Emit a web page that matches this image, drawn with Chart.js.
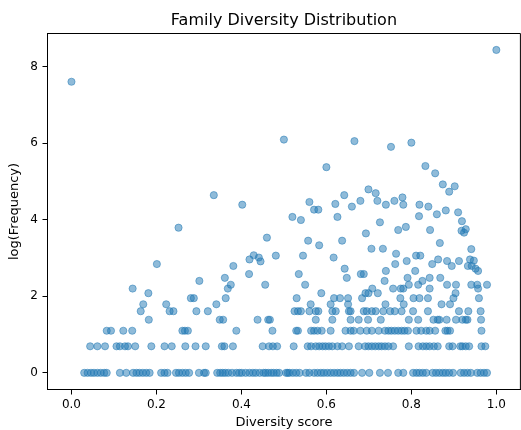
<!DOCTYPE html>
<html>
<head>
<meta charset="utf-8">
<script src="https://cdn.jsdelivr.net/npm/chart.js@4"></script>
<style>
html, body { margin: 0; padding: 0; overflow: hidden; background: #fff; width: 521px; height: 430px; }
#clip { width: 521px; height: 430px; overflow: hidden; position: relative; }
canvas { display: block; }
</style>
</head>
<body>
<div id="clip"><canvas id="c" width="525" height="430"></canvas></div>
<script>
// ---- data ----
const diversityScore = [
  // high points
  0.000, 1.000, 0.500, 0.666, 0.752, 0.800, 0.600, 0.833, 0.856, 0.874, 0.902, 0.889, 0.335, 0.642, 0.699, 0.716,
  0.402, 0.520, 0.252, 0.460, 0.429, 0.419, 0.441, 0.445, 0.481, 0.201, 0.381, 0.418, 0.361, 0.301, 0.375, 0.368,
  0.456, 0.144, 0.181, 0.363, 0.281, 0.288, 0.169, 0.223, 0.341, 0.530, 0.535,
  0.560, 0.571, 0.581, 0.621, 0.660, 0.680, 0.720, 0.740, 0.760, 0.779, 0.781, 0.819, 0.840, 0.881, 0.860, 0.910,
  0.919, 0.928, 0.918, 0.924, 0.540, 0.626, 0.726, 0.818, 0.769, 0.787, 0.844, 0.693, 0.557, 0.583, 0.637, 0.867,
  0.941, 0.706, 0.733, 0.545, 0.617, 0.764, 0.811, 0.821, 0.789, 0.762, 0.849, 0.863, 0.884, 0.895, 0.912, 0.938,
  0.933, 0.942, 0.947, 0.951, 0.957, 0.550, 0.643, 0.648, 0.681, 0.688, 0.740, 0.737, 0.809, 0.791, 0.826, 0.816,
  0.794, 0.843, 0.868, 0.843, 0.884, 0.905, 0.941, 0.955, 0.957, 0.978, 0.757, 0.775, 0.781, 0.708, 0.699, 0.692,
  0.721, 0.588, 0.904, 0.899, 0.618, 0.632, 0.651, 0.684, 0.774, 0.805, 0.819, 0.839, 0.959,
  0.563, 0.610, 0.651, 0.782, 0.871, 0.739, 0.891,
  // row log(5)
  0.163, 0.231, 0.240, 0.294, 0.321, 0.525, 0.533, 0.540, 0.560, 0.575, 0.581, 0.614, 0.622, 0.653, 0.657, 0.688,
  0.695, 0.707, 0.716, 0.734, 0.750, 0.761, 0.777, 0.804, 0.839, 0.912, 0.934, 0.963,
  // row log(4)
  0.182, 0.349, 0.357, 0.438, 0.463, 0.467, 0.575, 0.614, 0.657, 0.676, 0.698, 0.728, 0.794, 0.816, 0.852, 0.862,
  0.866, 0.883, 0.905, 0.920, 0.928, 0.932, 0.964,
  // row log(3)
  0.083, 0.093, 0.122, 0.143, 0.261, 0.267, 0.274, 0.388, 0.473, 0.529, 0.533, 0.564, 0.571, 0.579, 0.589, 0.610,
  0.645, 0.657, 0.664, 0.680, 0.695, 0.707, 0.723, 0.738, 0.746, 0.753, 0.761, 0.769, 0.777, 0.784, 0.792, 0.812,
  0.823, 0.835, 0.843, 0.856, 0.880, 0.885, 0.891, 0.965,
  // row log(2)
  0.044, 0.061, 0.079, 0.106, 0.114, 0.126, 0.133, 0.150, 0.188, 0.219, 0.236, 0.268, 0.292, 0.316, 0.354, 0.360,
  0.380, 0.450, 0.465, 0.474, 0.484, 0.523, 0.556, 0.564, 0.575, 0.583, 0.591, 0.598, 0.606, 0.614, 0.626, 0.637,
  0.653, 0.676, 0.691, 0.699, 0.707, 0.715, 0.723, 0.730, 0.738, 0.746, 0.757, 0.794, 0.817, 0.827, 0.835, 0.843,
  0.853, 0.862, 0.889, 0.897, 0.915, 0.920, 0.928, 0.936, 0.965, 0.974,
  // row log(1)
  0.030, 0.038, 0.046, 0.053, 0.061, 0.069, 0.077, 0.083, 0.114, 0.129, 0.145, 0.153, 0.160, 0.168, 0.176, 0.184,
  0.211, 0.219, 0.226, 0.246, 0.253, 0.261, 0.269, 0.277, 0.300, 0.312, 0.316, 0.343, 0.350, 0.356, 0.362, 0.369,
  0.378, 0.388, 0.395, 0.401, 0.410, 0.419, 0.427, 0.434, 0.443, 0.452, 0.457, 0.463, 0.470, 0.476, 0.483, 0.489,
  0.509, 0.505, 0.513, 0.521, 0.529, 0.537, 0.552, 0.560, 0.571, 0.579, 0.587, 0.594, 0.602, 0.610, 0.618, 0.626,
  0.633, 0.641, 0.649, 0.657, 0.665, 0.684, 0.701, 0.726, 0.745, 0.769, 0.781, 0.804, 0.812, 0.819, 0.827, 0.835,
  0.850, 0.858, 0.866, 0.874, 0.881, 0.889, 0.898, 0.916, 0.924, 0.932, 0.940, 0.955, 0.963, 0.971, 0.978
];

const logFrequency = [
  7.60, 8.43, 6.09, 6.05, 5.90, 6.01, 5.37, 5.40, 5.21, 4.92, 4.87, 4.73, 4.64, 4.64, 4.79, 4.69,
  4.39, 4.07, 3.79, 3.53, 3.07, 2.96, 3.01, 2.91, 3.06, 2.84, 2.79, 2.58, 2.48, 2.40, 2.30, 2.20,
  2.30, 2.20, 2.08, 1.95, 1.95, 1.95, 1.79, 1.79, 1.79, 1.95, 2.58,
  4.46, 4.26, 4.26, 4.41, 4.34, 4.49, 4.49, 4.39, 4.49, 4.58, 4.39, 4.39, 4.34, 4.24, 4.14, 4.19,
  3.96, 3.75, 3.71, 3.66, 3.99, 4.07, 3.93, 4.09, 3.73, 3.81, 3.73, 3.64, 3.45, 3.33, 3.45, 3.39,
  3.23, 3.24, 3.24, 3.06, 3.01, 3.11, 3.06, 3.06, 2.92, 2.84, 2.84, 2.96, 2.92, 2.79, 2.92, 2.96,
  2.79, 2.79, 2.93, 2.72, 2.66, 2.30, 2.72, 2.48, 2.58, 2.58, 2.66, 2.40, 2.66, 2.48, 2.40, 2.30,
  2.30, 2.48, 2.48, 2.20, 2.30, 2.30, 2.30, 2.30, 2.20, 2.30, 2.20, 2.20, 2.20, 2.20, 2.08, 2.08,
  2.08, 2.08, 2.08, 1.95, 1.95, 1.95, 1.95, 1.95, 1.95, 1.95, 1.95, 1.95, 1.95,
  1.79, 1.79, 1.79, 1.79, 1.79, 1.79, 1.79,
  // row log(5)
  1.609, 1.609, 1.609, 1.609, 1.609, 1.609, 1.609, 1.609, 1.609, 1.609, 1.609, 1.609, 1.609, 1.609, 1.609, 1.609,
  1.609, 1.609, 1.609, 1.609, 1.609, 1.609, 1.609, 1.609, 1.609, 1.609, 1.609, 1.609,
  // row log(4)
  1.386, 1.386, 1.386, 1.386, 1.386, 1.386, 1.386, 1.386, 1.386, 1.386, 1.386, 1.386, 1.386, 1.386, 1.386, 1.386,
  1.386, 1.386, 1.386, 1.386, 1.386, 1.386, 1.386,
  // row log(3)
  1.099, 1.099, 1.099, 1.099, 1.099, 1.099, 1.099, 1.099, 1.099, 1.099, 1.099, 1.099, 1.099, 1.099, 1.099, 1.099,
  1.099, 1.099, 1.099, 1.099, 1.099, 1.099, 1.099, 1.099, 1.099, 1.099, 1.099, 1.099, 1.099, 1.099, 1.099, 1.099,
  1.099, 1.099, 1.099, 1.099, 1.099, 1.099, 1.099, 1.099,
  // row log(2)
  0.693, 0.693, 0.693, 0.693, 0.693, 0.693, 0.693, 0.693, 0.693, 0.693, 0.693, 0.693, 0.693, 0.693, 0.693, 0.693,
  0.693, 0.693, 0.693, 0.693, 0.693, 0.693, 0.693, 0.693, 0.693, 0.693, 0.693, 0.693, 0.693, 0.693, 0.693, 0.693,
  0.693, 0.693, 0.693, 0.693, 0.693, 0.693, 0.693, 0.693, 0.693, 0.693, 0.693, 0.693, 0.693, 0.693, 0.693, 0.693,
  0.693, 0.693, 0.693, 0.693, 0.693, 0.693, 0.693, 0.693, 0.693, 0.693,
  // row log(1)
  0, 0, 0, 0, 0, 0, 0, 0, 0, 0, 0, 0, 0, 0, 0, 0,
  0, 0, 0, 0, 0, 0, 0, 0, 0, 0, 0, 0, 0, 0, 0, 0,
  0, 0, 0, 0, 0, 0, 0, 0, 0, 0, 0, 0, 0, 0, 0, 0,
  0, 0, 0, 0, 0, 0, 0, 0, 0, 0, 0, 0, 0, 0, 0, 0,
  0, 0, 0, 0, 0, 0, 0, 0, 0, 0, 0, 0, 0, 0, 0, 0,
  0, 0, 0, 0, 0, 0, 0, 0, 0, 0, 0, 0, 0, 0, 0
];

const xTicks = [0, 0.2, 0.4, 0.6, 0.8, 1.0];
const xTickLabels = ['0.0', '0.2', '0.4', '0.6', '0.8', '1.0'];
const yTicks = [0, 2, 4, 6, 8];
const yTickLabels = ['0', '2', '4', '6', '8'];

const points = diversityScore.map((x, i) => ({ x: x, y: logFrequency[i] }));

const FONT = 'DejaVu Sans';

const framePlugin = {
  id: 'frame',
  afterDraw(chart) {
    const { ctx, chartArea: a } = chart;
    ctx.save();
    ctx.strokeStyle = '#000';
    ctx.lineWidth = 1;
    ctx.beginPath();
    ctx.moveTo(a.left, a.top);
    ctx.lineTo(a.right, a.top);
    ctx.lineTo(a.right, a.bottom);
    ctx.stroke();
    ctx.restore();
  }
};

new Chart(document.getElementById('c'), {
  type: 'scatter',
  data: {
    datasets: [{
      data: points,
      backgroundColor: 'rgba(31,119,180,0.5)',
      borderColor: 'rgba(31,119,180,0.5)',
      borderWidth: 1,
      pointRadius: 3.6,
      pointHoverRadius: 3.6
    }]
  },
  plugins: [framePlugin],
  options: {
    animation: false,
    responsive: false,
    devicePixelRatio: 1,
    events: [],
    layout: { padding: { left: 0, right: 0, top: 0, bottom: 0 } },
    plugins: {
      legend: { display: false },
      tooltip: { enabled: false },
      title: {
        display: true,
        text: 'Family Diversity Distribution',
        fullSize: false,
        color: '#000',
        font: { family: FONT, size: 16, weight: 'normal' },
        padding: { top: 11, bottom: 3.3 }
      }
    },
    scales: {
      x: {
        type: 'linear',
        min: -0.0564,
        max: 1.0566,
        afterFit(s) { s.height = 40.5; },
        afterBuildTicks(s) { s.ticks = xTicks.map(v => ({ value: v })); },
        ticks: {
          callback: (v, i) => xTickLabels[i],
          color: '#000',
          font: { family: FONT, size: 12 },
          padding: 3,
          maxRotation: 0,
          autoSkip: false
        },
        grid: { drawOnChartArea: false, drawTicks: true, tickLength: 5, color: '#000', lineWidth: 1 },
        border: { display: true, color: '#000', width: 1 },
        title: {
          display: true,
          text: 'Diversity score',
          color: '#000',
          font: { family: FONT, size: 13 },
          padding: { top: 0, bottom: 0 }
        }
      },
      y: {
        type: 'linear',
        min: -0.435,
        max: 8.86,
        afterFit(s) { s.width = 47.5; },
        afterBuildTicks(s) { s.ticks = yTicks.map(v => ({ value: v })); },
        ticks: {
          callback: (v, i) => yTickLabels[i],
          color: '#000',
          font: { family: FONT, size: 12 },
          padding: 4.5,
          autoSkip: false
        },
        grid: { drawOnChartArea: false, drawTicks: true, tickLength: 5, color: '#000', lineWidth: 1 },
        border: { display: true, color: '#000', width: 1 },
        title: {
          display: true,
          text: 'log(Frequency)',
          color: '#000',
          font: { family: FONT, size: 13 },
          padding: { top: 7.2, bottom: 0 }
        }
      }
    }
  }
});
</script>
</body>
</html>
